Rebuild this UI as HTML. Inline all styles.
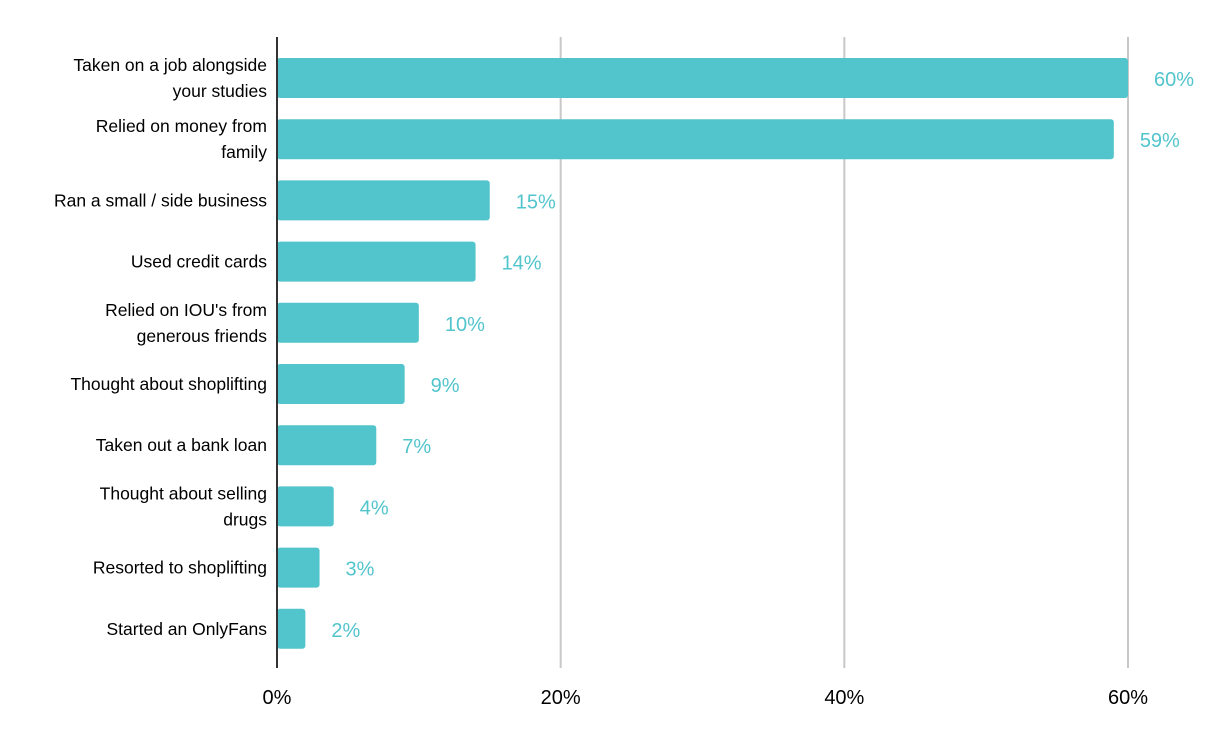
<!DOCTYPE html>
<html><head><meta charset="utf-8"><style>
body{margin:0;background:#fff;}
svg{display:block;font-family:"Liberation Sans",Arial,sans-serif;}
</style></head><body>
<svg id="chart" width="1224" height="742"></svg>
<script>
const categories=[["Taken on a job alongside","your studies"],["Relied on money from","family"],["Ran a small / side business"],["Used credit cards"],["Relied on IOU's from","generous friends"],["Thought about shoplifting"],["Taken out a bank loan"],["Thought about selling","drugs"],["Resorted to shoplifting"],["Started an OnlyFans"]];
const values=[60,59,15,14,10,9,7,4,3,2];
const ticks=[0,20,40,60];
const tickLabels=["0%","20%","40%","60%"];

const svg=document.getElementById('chart');
const NS='http://www.w3.org/2000/svg';
const x0=277,pxPer=(1128-277)/60,plotTop=37,plotBottom=668,bandStart=47.4,band=61.2,barH=40;
const xs=v=>x0+v*pxPer;
const yc=i=>bandStart+band*(i+0.5);
function mk(t,a){const e=document.createElementNS(NS,t);for(const k in a)e.setAttribute(k,a[k]);svg.appendChild(e);return e;}
ticks.forEach((t,i)=>{
  if(t>0){const g=mk('line',{x1:xs(t),x2:xs(t),y1:plotTop,y2:plotBottom,stroke:'#c8c8c8','stroke-width':2});
  
  }
  const tl=mk('text',{x:xs(t),y:704,'text-anchor':'middle','font-size':20,fill:'#000'});
  tl.textContent=tickLabels[i];
  
  
});
values.forEach((v,i)=>{
  const r=mk('rect',{x:x0,y:yc(i)-barH/2,width:xs(v)-x0,height:barH,rx:3,fill:'#52c4cc'});
  
  
  const vl=mk('text',{x:xs(v)+26,y:yc(i)+8,'font-size':20,fill:'#52c4cc'});
  vl.textContent=v+'%';
  
  
  const lines=categories[i];
  const cl=mk('text',{x:267,'text-anchor':'end','font-size':17.5,fill:'#000'});
  
  
  lines.forEach((ln,j)=>{
    const ts=document.createElementNS(NS,'tspan');
    ts.setAttribute('x',267);
    ts.setAttribute('y',yc(i)+6+(j-(lines.length-1)/2)*26);
    ts.textContent=ln;cl.appendChild(ts);
  });
});
const ax=mk('line',{x1:x0,x2:x0,y1:plotTop,y2:plotBottom,stroke:'#333','stroke-width':2});


</script>
</body></html>
